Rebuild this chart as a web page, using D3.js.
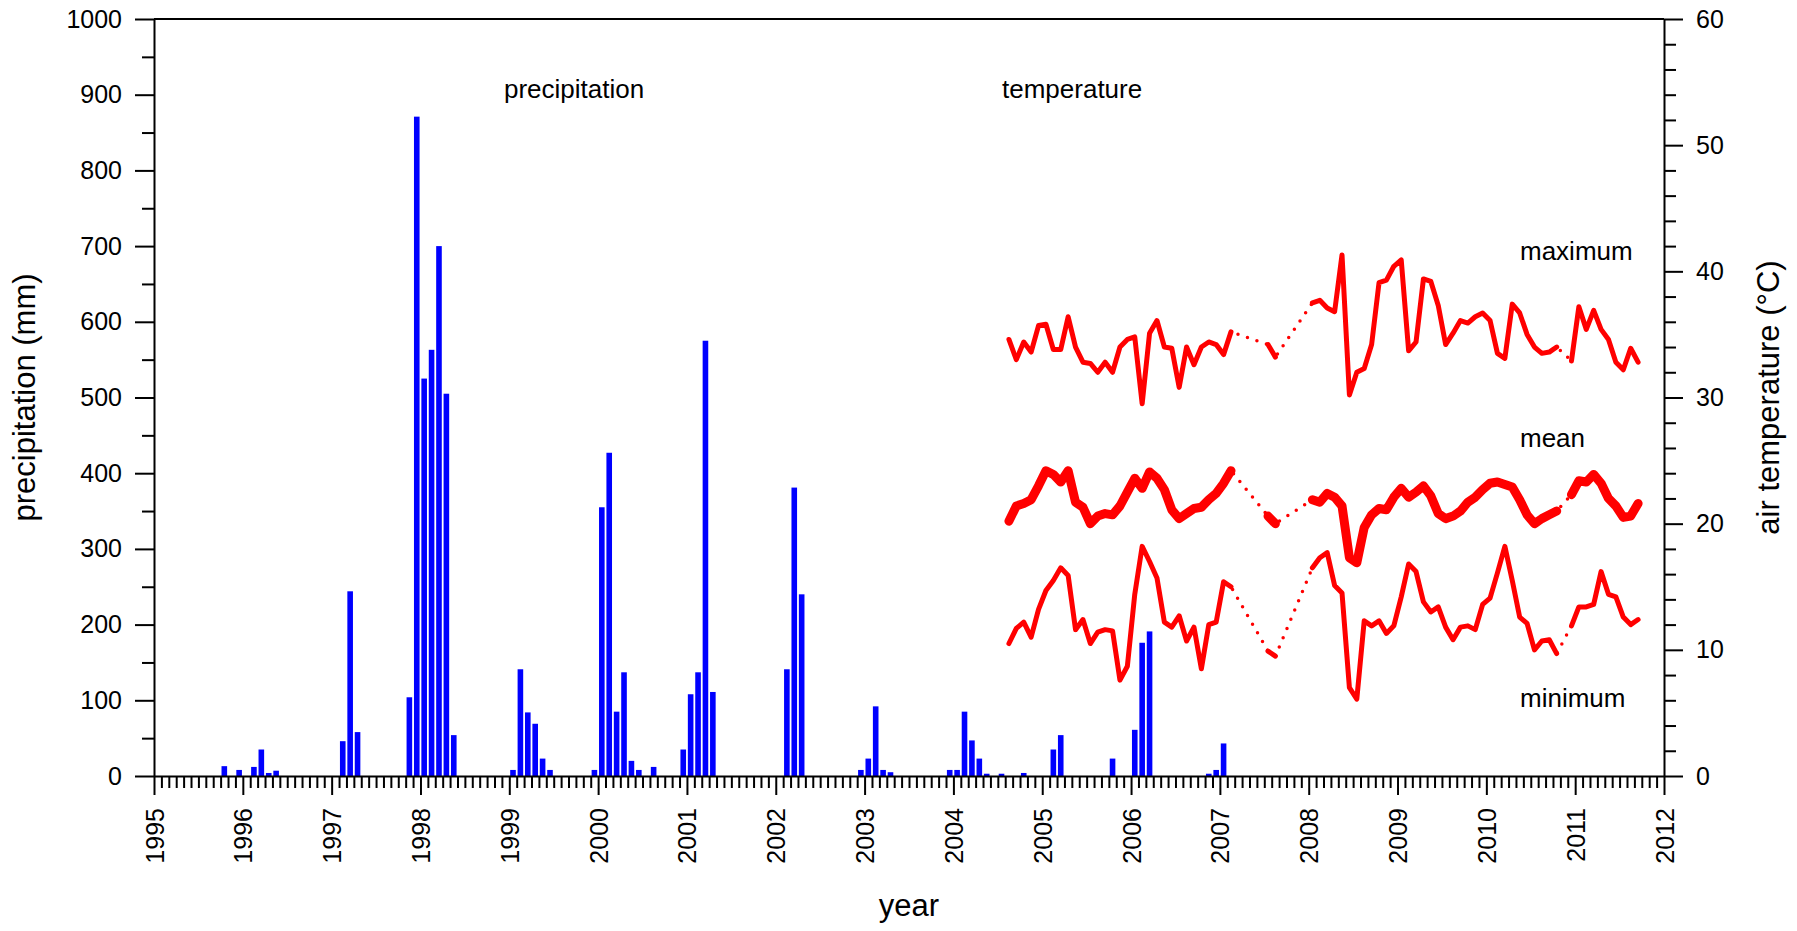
<!DOCTYPE html>
<meta charset="utf-8">
<style>
  body { margin: 0; background: #fff; }
  svg text { font-family: "Liberation Sans", Arial, sans-serif; fill: #000; }
  .axis path, .axis line { stroke: #000; stroke-width: 2; }
</style>
<body>
<div id="chart"></div>
<script src="https://d3js.org/d3.v7.min.js"></script>
<script>
  // monthly precipitation (mm)
  const precipMonth = ["1995-10", "1995-12", "1996-02", "1996-03", "1996-04", "1996-05",
    "1997-02", "1997-03", "1997-04", "1997-11", "1997-12", "1998-01", "1998-02", "1998-03",
    "1998-04", "1998-05", "1999-01", "1999-02", "1999-03", "1999-04", "1999-05", "1999-06",
    "1999-12", "2000-01", "2000-02", "2000-03", "2000-04", "2000-05", "2000-06", "2000-08",
    "2000-12", "2001-01", "2001-02", "2001-03", "2001-04", "2002-02", "2002-03", "2002-04",
    "2002-12", "2003-01", "2003-02", "2003-03", "2003-04", "2003-12", "2004-01", "2004-02",
    "2004-03", "2004-04", "2004-05", "2004-07", "2004-10", "2005-02", "2005-03", "2005-10",
    "2006-01", "2006-02", "2006-03", "2006-11", "2006-12", "2007-01"];
  const precipMm = [13, 8, 12, 35, 4, 7,
    46, 244, 58, 104, 871, 525, 563, 700,
    505, 54, 8, 141, 84, 69, 23, 8,
    8, 355, 427, 85, 137, 20, 8, 12,
    35, 108, 137, 575, 111, 141, 381, 240,
    8, 23, 92, 8, 5, 8, 8, 85,
    47, 23, 3, 3, 4, 35, 54, 23,
    61, 176, 191, 3, 8, 43];

  // monthly air temperature (°C), one value per month from tempStart, null = no record
  const tempStart = "2004-08";
  const tMax = [34.6, 33.0, 34.4, 33.6, 35.7, 35.8, 33.8, 33.8, 36.4, 34.0, 32.8, 32.7, 32.0, 32.8,
    32.0, 34.0, 34.6, 34.8, 29.5, 35.1, 36.1, 34.0, 33.9, 30.8, 34.0, 32.6, 34.0, 34.4, 34.2,
    33.4, 35.2, null, null, null, null, 34.2, 33.2, null, null, null, null,
    37.5, 37.7, 37.1, 36.8, 41.3, 30.2, 32.0, 32.3, 34.2, 39.1, 39.3, 40.4, 40.9, 33.7, 34.4,
    39.4, 39.2, 37.3, 34.2, 35.1, 36.1, 35.9, 36.4, 36.7, 36.1, 33.5, 33.1, 37.4, 36.7, 35.0,
    34.0, 33.5, 33.6, 34.0, null, 32.9, 37.2, 35.4, 36.9, 35.4, 34.6, 32.8, 32.2, 33.9, 32.8];
  const tMean = [20.2, 21.4, 21.6, 21.9, 23.0, 24.2, 23.9, 23.3, 24.2, 21.7, 21.3, 20.0, 20.6, 20.8,
    20.7, 21.4, 22.5, 23.6, 22.8, 24.1, 23.6, 22.7, 21.1, 20.4, 20.8, 21.2, 21.3, 21.9, 22.4,
    23.2, 24.2, null, null, null, null, 20.6, 20.0, null, null, null, null,
    21.9, 21.7, 22.4, 22.1, 21.4, 17.3, 16.9, 19.7, 20.7, 21.2, 21.1, 22.1, 22.8, 22.1, 22.5,
    23.0, 22.2, 20.8, 20.4, 20.6, 21.0, 21.7, 22.1, 22.7, 23.2, 23.3, 23.1, 22.9, 21.9, 20.7,
    20.0, 20.4, 20.7, 21.0, null, 22.3, 23.4, 23.3, 23.9, 23.2, 22.0, 21.4, 20.5, 20.6, 21.6];
  const tMin = [10.5, 11.7, 12.2, 11.0, 13.2, 14.7, 15.5, 16.5, 15.9, 11.6, 12.4, 10.5, 11.4, 11.6,
    11.5, 7.6, 8.7, 14.4, 18.2, 17.0, 15.7, 12.2, 11.8, 12.7, 10.7, 11.8, 8.5, 12.0, 12.2,
    15.4, 15.0, null, null, null, null, 9.9, 9.5, null, null, null, null,
    16.5, 17.3, 17.7, 15.1, 14.5, 7.0, 6.1, 12.3, 11.9, 12.3, 11.3, 11.9, 14.2, 16.8, 16.2,
    13.8, 13.0, 13.4, 11.8, 10.8, 11.8, 11.9, 11.6, 13.6, 14.1, 16.1, 18.2, 15.5, 12.6, 12.1,
    10.0, 10.7, 10.8, 9.7, null, 11.9, 13.4, 13.4, 13.6, 16.2, 14.4, 14.2, 12.6, 12.0, 12.4];

  const yearLabels = [1995, 1996, 1997, 1998, 1999, 2000, 2001, 2002, 2003, 2004,
    2005, 2006, 2007, 2008, 2009, 2010, 2011, 2012];
  const precipTicks = [0, 100, 200, 300, 400, 500, 600, 700, 800, 900, 1000];
  const tempTicks = [0, 10, 20, 30, 40, 50, 60];
  const seriesNames = ["maximum", "mean", "minimum"];

  const width = 1797, height = 931;
  const plot = {left: 154, right: 1664, top: 19, bottom: 776};

  const svg = d3.select("#chart").append("svg")
    .attr("width", width)
    .attr("height", height);

  const x = d3.scaleLinear().domain([1995, 2012]).range([plot.left, plot.right]);
  const yP = d3.scaleLinear().domain([0, 1000]).range([plot.bottom, plot.top]);
  const yT = d3.scaleLinear().domain([0, 60]).range([plot.bottom, plot.top]);

  // month string -> decimal year at the middle of the month
  const midMonth = (s) => {
    const [yy, mm] = s.split("-").map(Number);
    return yy + (mm - 0.5) / 12;
  };

  // ---- bars
  const barW = 5.6;
  svg.append("g").selectAll("rect")
    .data(precipMonth.map((m, i) => ({t: midMonth(m), v: precipMm[i]})))
    .join("rect")
    .attr("x", (d) => x(d.t) - barW / 2)
    .attr("y", (d) => yP(d.v))
    .attr("width", barW)
    .attr("height", (d) => yP(0) - yP(d.v))
    .attr("fill", "#0000ff");

  // ---- temperature lines
  const t0 = midMonth(tempStart);
  const toPts = (arr) => arr.map((v, i) => ({t: t0 + i / 12, v: v}));

  const line = d3.line()
    .defined((d) => d.v != null)
    .x((d) => x(d.t))
    .y((d) => yT(d.v));

  [[tMax, 5], [tMean, 9], [tMin, 5]].forEach(([arr, w]) => {
    const pts = toPts(arr);
    // dotted bridge across missing months
    svg.append("path")
      .attr("d", line(pts.filter((d) => d.v != null)))
      .attr("fill", "none")
      .attr("stroke", "#ff0000")
      .attr("stroke-width", 3.5)
      .attr("stroke-linecap", "round")
      .attr("stroke-dasharray", "0 10");
    svg.append("path")
      .attr("d", line(pts))
      .attr("fill", "none")
      .attr("stroke", "#ff0000")
      .attr("stroke-width", w)
      .attr("stroke-linejoin", "round")
      .attr("stroke-linecap", "round");
  });

  // ---- axes
  const styleAxis = (g) => {
    g.attr("class", "axis").attr("font-size", 25).attr("font-family", null);
    g.selectAll("text").style("font-family", "'Liberation Sans', Arial, sans-serif");
  };

  // left
  svg.append("g")
    .attr("transform", `translate(${plot.left},0)`)
    .call(d3.axisLeft(yP).tickValues(precipTicks).tickSize(19).tickSizeOuter(0)
      .tickPadding(13).tickFormat(d3.format("d")))
    .call(styleAxis);
  svg.append("g")
    .attr("transform", `translate(${plot.left},0)`)
    .call(d3.axisLeft(yP).tickValues(d3.range(50, 1000, 100)).tickSize(12).tickFormat(""))
    .call(styleAxis)
    .call((g) => g.select(".domain").remove());

  // right
  svg.append("g")
    .attr("transform", `translate(${plot.right},0)`)
    .call(d3.axisRight(yT).tickValues(tempTicks).tickSize(19).tickSizeOuter(0)
      .tickPadding(13).tickFormat(d3.format("d")))
    .call(styleAxis);
  svg.append("g")
    .attr("transform", `translate(${plot.right},0)`)
    .call(d3.axisRight(yT).tickValues(d3.range(0, 60, 2).filter((v) => v % 10)).tickSize(12).tickFormat(""))
    .call(styleAxis)
    .call((g) => g.select(".domain").remove());

  // bottom
  svg.append("g")
    .attr("transform", `translate(0,${plot.bottom})`)
    .call(d3.axisBottom(x).tickValues(yearLabels).tickSize(19).tickSizeOuter(0).tickFormat(d3.format("d")))
    .call(styleAxis)
    .call((g) => g.selectAll("text")
      .attr("transform", "rotate(-90)")
      .attr("x", -32)
      .attr("y", 0)
      .attr("dy", "0.36em")
      .attr("text-anchor", "end"));
  svg.append("g")
    .attr("transform", `translate(0,${plot.bottom})`)
    .call(d3.axisBottom(x)
      .tickValues(d3.range(1, 204).filter((i) => i % 12).map((i) => 1995 + i / 12))
      .tickSize(12).tickFormat(""))
    .call(styleAxis)
    .call((g) => g.select(".domain").remove());

  // top frame line
  svg.append("line")
    .attr("x1", plot.left).attr("x2", plot.right)
    .attr("y1", plot.top).attr("y2", plot.top)
    .attr("stroke", "#000").attr("stroke-width", 2);

  // ---- titles
  svg.append("text")
    .attr("transform", `translate(35,${(plot.top + plot.bottom) / 2}) rotate(-90)`)
    .attr("text-anchor", "middle")
    .attr("font-size", 31)
    .text("precipitation (mm)");

  svg.append("text")
    .attr("transform", `translate(1779,${(plot.top + plot.bottom) / 2}) rotate(-90)`)
    .attr("text-anchor", "middle")
    .attr("font-size", 31)
    .text("air temperature (°C)");

  svg.append("text")
    .attr("x", (plot.left + plot.right) / 2)
    .attr("y", 916)
    .attr("text-anchor", "middle")
    .attr("font-size", 31)
    .text("year");

  // in-plot labels
  svg.append("text").attr("x", 504).attr("y", 98).attr("font-size", 26).text("precipitation");
  svg.append("text").attr("x", 1002).attr("y", 98).attr("font-size", 26).text("temperature");

  const labelY = [260, 447, 707];
  seriesNames.forEach((s, i) => {
    svg.append("text").attr("x", 1520).attr("y", labelY[i]).attr("font-size", 26).text(s);
  });
</script>
</body>
